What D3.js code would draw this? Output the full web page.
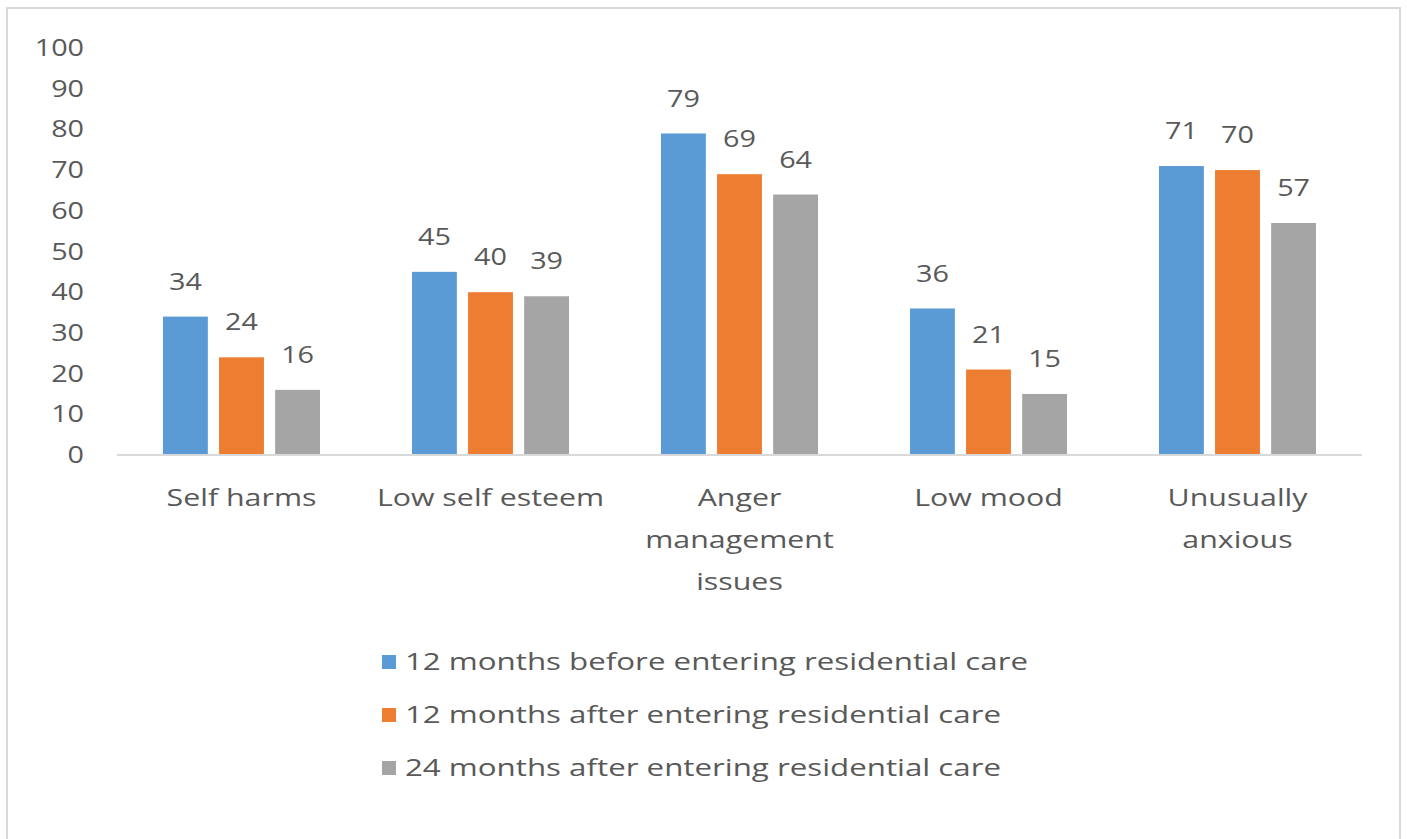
<!DOCTYPE html>
<html>
<head>
<meta charset="utf-8">
<script src="https://cdn.jsdelivr.net/npm/d3@7"></script>
<style>
  body { margin: 0; background: #fff; }
  text { font-family: "Open Sans", sans-serif; fill: #595959; font-size: 23px; }
</style>
</head>
<body>
<div id="chart"></div>
<script>
// data
const categories = ["Self harms", "Low self esteem", "Anger management issues", "Low mood", "Unusually anxious"];
const categoryLines = [["Self harms"], ["Low self esteem"], ["Anger", "management", "issues"], ["Low mood"], ["Unusually", "anxious"]];
const seriesNames = [
  "12 months before entering residential care",
  "12 months after entering residential care",
  "24 months after entering residential care"
];
const before12 = [34, 45, 79, 36, 71];
const after12 = [24, 40, 69, 21, 70];
const after24 = [16, 39, 64, 15, 57];
const yTicks = [0, 10, 20, 30, 40, 50, 60, 70, 80, 90, 100];

const seriesValues = [before12, after12, after24];
const colors = ["#5B9BD5", "#ED7D31", "#A5A5A5"];

const width = 1407, height = 839;
// the original picture is stretched sideways, text too
const sx = 1.32, sxNum = 1.25;

function place(px, py, s){
    return "translate(" + px + "," + py + ") scale(" + s + ",1)"
}

const svg = d3.select("#chart").append("svg")
    .attr("width", width)
    .attr("height", height)

// outer frame
svg.append("rect")
    .attr("x", 7).attr("y", 8)
    .attr("width", 1393).attr("height", 860)
    .attr("fill", "#fff")
    .attr("stroke", "#D9D9D9")
    .attr("stroke-width", 2)

const x = d3.scaleBand()
    .domain(categories)
    .range([117, 1362])

const xs = d3.scaleBand()
    .domain(d3.range(seriesNames.length))
    .range([0, x.bandwidth()])
    .paddingInner(0.2)
    .paddingOuter(0.82)

const y = d3.scaleLinear()
    .domain([0, 100])
    .range([455, 48])

// y labels
svg.append("g")
    .selectAll("text")
    .data(yTicks)
    .enter()
    .append("text")
    .attr("transform", d => place(84, y(d), sxNum))
    .attr("dy", "0.35em")
    .attr("text-anchor", "end")
    .text(d => d)

// bars
const groups = svg.append("g")
    .selectAll("g")
    .data(seriesValues)
    .enter()
    .append("g")
    .attr("fill", (d, i) => colors[i])

groups.each(function(vals, si){
    const g = d3.select(this)
    g.selectAll("rect")
        .data(vals)
        .enter()
        .append("rect")
        .attr("x", (d, i) => x(categories[i]) + xs(si))
        .attr("y", d => y(d))
        .attr("width", xs.bandwidth())
        .attr("height", d => y(0) - y(d))

    g.selectAll("text")
        .data(vals)
        .enter()
        .append("text")
        .attr("transform", (d, i) => place(x(categories[i]) + xs(si) + xs.bandwidth() / 2, y(d) - 35, sxNum))
        .attr("dy", "0.35em")
        .attr("text-anchor", "middle")
        .text(d => d)
})

// baseline
svg.append("line")
    .attr("x1", 117).attr("x2", 1362)
    .attr("y1", y(0)).attr("y2", y(0))
    .attr("stroke", "#D9D9D9")
    .attr("stroke-width", 2)

// category labels
categoryLines.forEach(function(lines, i){
    svg.append("g")
        .selectAll("text")
        .data(lines)
        .enter()
        .append("text")
        .attr("transform", (d, j) => place(x(categories[i]) + x.bandwidth() / 2, 498 + j * 42, sx))
        .attr("dy", "0.35em")
        .attr("text-anchor", "middle")
        .text(d => d)
})

// legend
const legend = svg.append("g")
    .selectAll("g")
    .data(seriesNames)
    .enter()
    .append("g")
    .attr("transform", (d, i) => "translate(382," + (662 + i * 53) + ")")

legend.append("rect")
    .attr("x", 0).attr("y", -7)
    .attr("width", 14).attr("height", 14)
    .attr("fill", (d, i) => colors[i])

legend.append("text")
    .attr("transform", place(23, 0, 1.36))
    .attr("dy", "0.35em")
    .text(d => d)
</script>
</body>
</html>
